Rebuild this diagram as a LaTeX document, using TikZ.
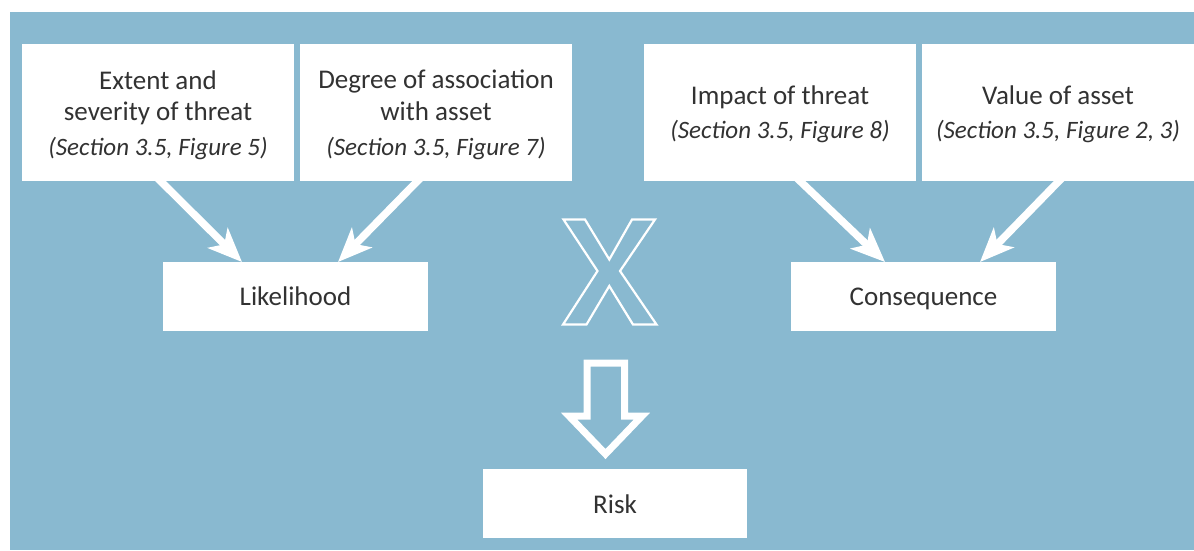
\documentclass[tikz,border=0pt]{standalone}
\usepackage{fontspec}
\setmainfont{Carlito}
\usetikzlibrary{arrows.meta,calc}
\definecolor{bgblue}{RGB}{137,185,208}
\definecolor{txt}{RGB}{50,50,50}
\pgfdeclarelayer{back}
\pgfdeclarelayer{mid}
\pgfsetlayers{back,mid,main}
\begin{document}
\begin{tikzpicture}[x=1pt,y=-1pt,
  box/.style={fill=white,inner sep=0pt,outer sep=0pt},
  lbl/.style={anchor=base,text=txt,inner sep=0pt,font=\fontsize{27}{30}\selectfont},
  ital/.style={anchor=base,text=txt,inner sep=0pt,font=\fontsize{25}{28}\selectfont\itshape},
  arr/.style={draw=white,line width=7.5pt,-{Stealth[length=34pt,width=28pt,inset=9pt]},shorten <=-14pt},
  outl/.style={draw=white,line join=miter}]
\useasboundingbox (0,0) rectangle (1194,550);
\begin{pgfonlayer}{back}
  \fill[bgblue] (10,12) rectangle (1194,550);
\end{pgfonlayer}

% top boxes
\node[box,minimum width=272pt,minimum height=137pt] (b1) at (158,112.5) {};
\node[box,minimum width=272pt,minimum height=137pt] (b2) at (436,112.5) {};
\node[box,minimum width=272pt,minimum height=137pt] (b3) at (780,112.5) {};
\node[box,minimum width=272pt,minimum height=137pt] (b4) at (1058,112.5) {};
% middle / bottom boxes
\node[box,minimum width=265pt,minimum height=69pt] (lik) at (295.5,296.5) {};
\node[box,minimum width=265pt,minimum height=69pt] (con) at (923.5,296.5) {};
\node[box,minimum width=264pt,minimum height=69pt] (risk) at (615,503) {};

% texts
\node[lbl] (t1a) at (158,89) {Extent and};
\node[lbl] (t1b) at (158,120) {severity of threat};
\node[ital] (t1c) at (158,155) {(Section 3.5, Figure 5)};
\node[lbl] (t2a) at (436,88) {Degree of association};
\node[lbl] (t2b) at (436,120) {with asset};
\node[ital] (t2c) at (436,155) {(Section 3.5, Figure 7)};
\node[lbl] (t3a) at (780,104) {Impact of threat};
\node[ital] (t3b) at (780,138) {(Section 3.5, Figure 8)};
\node[lbl] (t4a) at (1058,104) {Value of asset};
\node[ital] (t4b) at (1058,138) {(Section 3.5, Figure 2, 3)};
\node[lbl] (tl) at (295.5,305) {Likelihood};
\node[lbl] (tc) at (923.5,305) {Consequence};
\node[lbl] (tr) at (615,513) {Risk};

% connectors
\begin{pgfonlayer}{mid}
  \draw[arr] ($(b1.south)+(2.5,0)$) -- ($(lik.north)+(-53.5,0)$);
  \draw[arr] ($(b2.south)+(-18.5,0)$) -- ($(lik.north)+(42.5,0)$);
  \draw[arr] ($(b3.south)+(20,0)$) -- ($(con.north)+(-38.5,0)$);
  \draw[arr] ($(b4.south)+(1,0)$) -- ($(con.north)+(56.5,0)$);
\end{pgfonlayer}

% outlined X
\draw[outl,line width=2.2pt] (563.5,219.5) -- (585,219.5) -- (609.3,259.5) -- (632,219.5) -- (655,219.5)
  -- (620,271) -- (656.5,324.5) -- (633,324.5) -- (609.3,286) -- (586.5,324.5) -- (563,324.5) -- (597.5,271) -- cycle;

% hollow down arrow
\draw[outl,line width=7pt] (587,363) -- (624.5,363) -- (624.5,416) -- (642,416) -- (605.5,454)
  -- (569,416) -- (587,416) -- cycle;
\end{tikzpicture}
\end{document}
